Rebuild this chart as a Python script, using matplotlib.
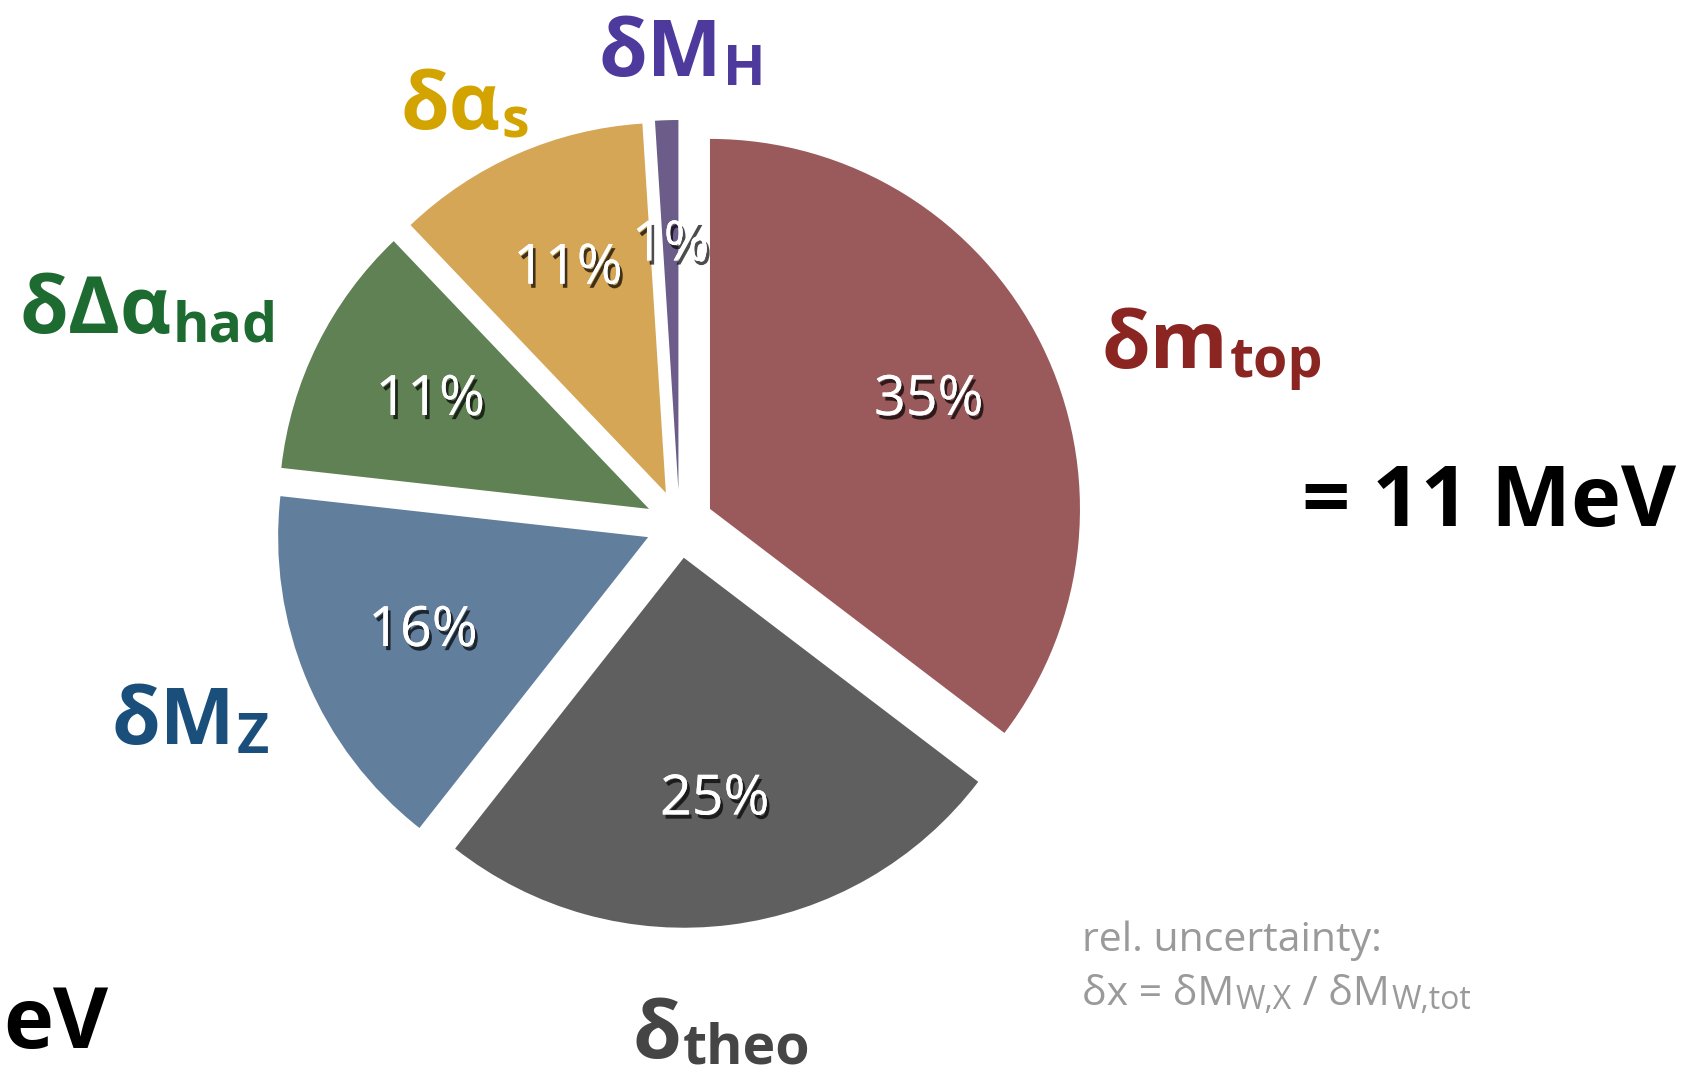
import matplotlib
matplotlib.use('Agg')
import matplotlib.pyplot as plt
import matplotlib.patheffects as pe

# data
names = ['top', 'theo', 'Z', 'had', 's', 'H']
shares = [35, 25, 16, 11, 11, 1]
wedge_colors = ['#9a5a5c', '#5f5f5f', '#617f9d', '#5f8154', '#d5a656', '#6c5c8a']

W, H = 1708, 1070
FAM = ['Open Sans', 'DejaVu Sans']
fig = plt.figure(figsize=(W / 100, H / 100), dpi=100)
ax = fig.add_axes([0, 0, 1, 1])

# explode is in data units here (axes are in pixels)
wedges, texts, autotexts = ax.pie(
    shares, explode=[34] * len(shares), startangle=90, counterclock=False,
    colors=wedge_colors, center=(679.5, H - 524), radius=370,
    autopct='%.0f%%', pctdistance=0.66,
    wedgeprops=dict(linewidth=0),
    textprops=dict(color='white', fontsize=40, family=FAM))
shadow = [pe.withSimplePatchShadow(offset=(2, -3), shadow_rgbFace='black', alpha=0.7), pe.Normal()]
for t in autotexts:
    t.set_path_effects(shadow)

ax.set_xlim(0, W)
ax.set_ylim(0, H)
ax.set_aspect('equal')
ax.axis('off')

fig.canvas.draw()
renderer = fig.canvas.get_renderer()


def label(x, y, main, sub, color, size=57, subsize=40, dy=-9):
    # y is measured from the top, like in the picture
    t = ax.text(x, H - y, main, color=color, fontsize=size, fontweight='bold',
                family=FAM, ha='left', va='baseline')
    bb = t.get_window_extent(renderer)
    ax.text(bb.x1 + 1, H - y + dy, sub, color=color, fontsize=subsize,
            fontweight='bold', family=FAM, ha='left', va='baseline')


label(1102, 368, 'δm', 'top', '#8a2522')
label(633, 1058, 'δ', 'theo', '#454545', dy=-6)
label(112, 744, 'δM', 'Z', '#1a4f7c')
label(20, 333, 'δΔα', 'had', '#1e6b31')
label(401, 129, 'δα', 's', '#d3a300')
label(599, 76, 'δM', 'H', '#4e3a9c')

ax.text(1302, H - 526, '= 11 MeV', color='black', fontsize=61, fontweight='bold',
        family=FAM, ha='left', va='baseline')
ax.text(3, H - 1048, 'eV', color='black', fontsize=61, fontweight='bold',
        family=FAM, ha='left', va='baseline')

ax.text(1082, H - 951, 'rel. uncertainty:', color='#9a9a9a', fontsize=29.5,
        family=FAM, ha='left', va='baseline')
t1 = ax.text(1082, H - 1005, 'δx = δM', color='#9a9a9a', fontsize=29.5,
             family=FAM, ha='left', va='baseline')
bb = t1.get_window_extent(renderer)
t2 = ax.text(bb.x1 + 1, H - 1009, 'W,X', color='#9a9a9a', fontsize=23,
             family=FAM, ha='left', va='baseline')
bb = t2.get_window_extent(renderer)
t3 = ax.text(bb.x1 + 1, H - 1005, ' / δM', color='#9a9a9a', fontsize=29.5,
             family=FAM, ha='left', va='baseline')
bb = t3.get_window_extent(renderer)
ax.text(bb.x1 + 1, H - 1009, 'W,tot', color='#9a9a9a', fontsize=23,
        family=FAM, ha='left', va='baseline')

fig.savefig('out.png', dpi=100)
